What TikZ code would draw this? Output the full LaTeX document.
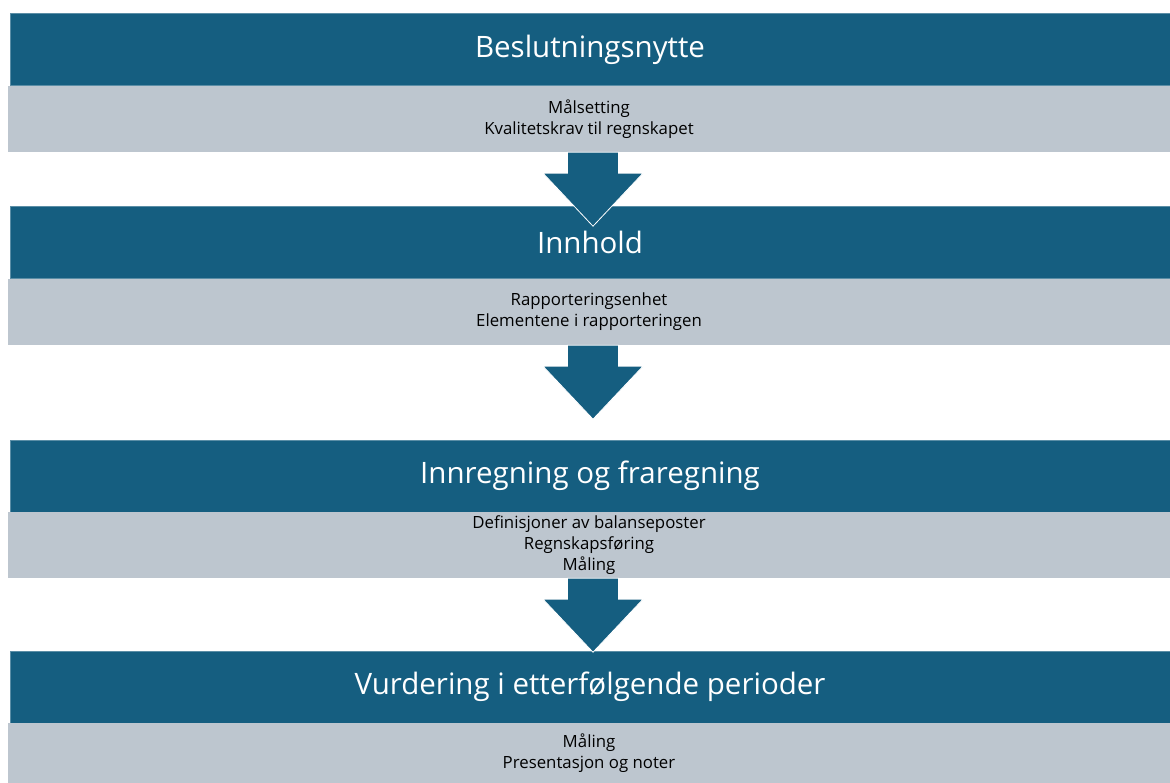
\documentclass[tikz,border=0pt]{standalone}
\usepackage{fontspec}
\setmainfont{Open Sans}
\usetikzlibrary{calc}
\definecolor{headblue}{HTML}{155E80}
\definecolor{bodygray}{HTML}{BDC6CF}

\tikzset{
  headbar/.style={fill=headblue, draw=headblue!70!white, line width=0.6pt,
    minimum width=1160pt, minimum height=72pt, inner sep=0pt,
    text=white, font=\fontsize{29.5}{34}\selectfont},
  bodybar/.style={fill=bodygray, draw=none, minimum width=1162pt, inner sep=0pt,
    align=center, text=black, font=\fontsize{16.8}{20.8}\selectfont},
  downarrow/.style={fill=headblue, draw=white, line width=0.8pt},
}

% block arrow hanging under a grey box
\newcommand{\flowarrow}[1]{%
  \path[downarrow, shift={($(#1.south)+(4,0)$)}]
    (-25.5,0) -- (25.5,0) -- (25.5,21) -- (50,21) -- (0,74)
    -- (-50,21) -- (-25.5,21) -- cycle;}

\begin{document}
\begin{tikzpicture}[x=1pt, y=-1pt]
  \useasboundingbox[fill=white] (0,0) rectangle (1170,783);

  \node[headbar] (head1) at (590,49.5) {Beslutningsnytte};
  \node[bodybar, minimum height=66pt] (body1) at (589,119)
    {Målsetting\\Kvalitetskrav til regnskapet};

  \node[headbar] (head2) at (590,242) {Innhold};
  \node[bodybar, minimum height=66pt] (body2) at (589,312)
    {Rapporteringsenhet\\Elementene i rapporteringen};

  \node[headbar] (head3) at (590,476) {Innregning og fraregning};
  \node[bodybar, minimum height=66pt] (body3) at (589,545)
    {Definisjoner av balanseposter\\Regnskapsføring\\Måling};

  \node[headbar] (head4) at (590,687) {Vurdering i etterfølgende perioder};
  \node[bodybar, minimum height=61pt] (body4) at (589,753)
    {Måling\\Presentasjon og noter};

  \flowarrow{body1}
  \flowarrow{body2}
  \flowarrow{body3}
\end{tikzpicture}
\end{document}
